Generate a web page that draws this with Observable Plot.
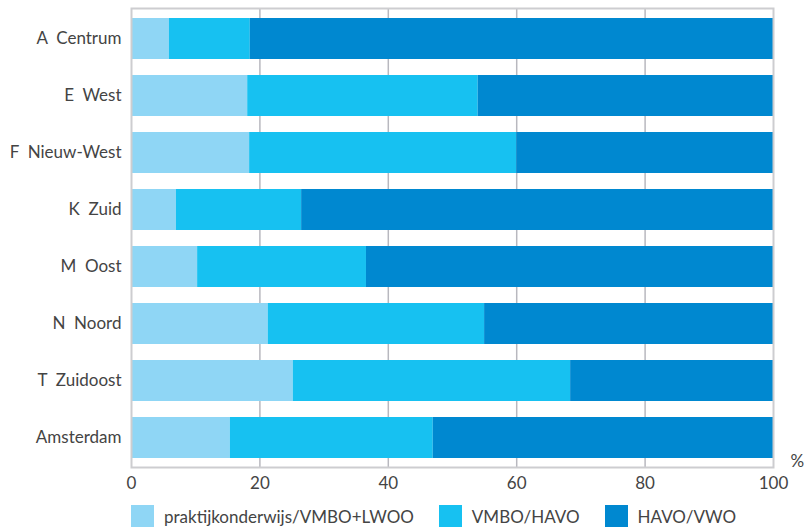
<!DOCTYPE html>
<html>
<head>
<meta charset="utf-8">
<script src="https://cdn.jsdelivr.net/npm/d3@7"></script>
<script src="https://cdn.jsdelivr.net/npm/@observablehq/plot@0.6"></script>
<style>
  html, body { margin: 0; padding: 0; background: #fff; }
  body { width: 805px; height: 531px; overflow: hidden; font-family: Lato, sans-serif; }
  #chart svg text { white-space: pre; }
  .legend { display: flex; align-items: center; margin-left: 131px; margin-top: 8px; font-family: Lato, sans-serif; font-size: 17px; color: #444; }
  .legend .item { display: flex; align-items: center; margin-right: 25px; }
  .legend .sw { width: 23px; height: 22px; margin-right: 10px; }
</style>
</head>
<body>
<div id="chart"></div>
<script>
const districts = ["A  Centrum", "E  West", "F  Nieuw-West", "K  Zuid", "M  Oost", "N  Noord", "T  Zuidoost", "Amsterdam"];
const categories = ["praktijkonderwijs/VMBO+LWOO", "VMBO/HAVO", "HAVO/VWO"];
const colors = ["#8fd6f5", "#17c1f1", "#0088d0"];
const praktijk = [5.9, 18.1, 18.4, 7.0, 10.3, 21.3, 25.2, 15.4];
const vmboHavo = [12.6, 35.9, 41.6, 19.5, 26.3, 33.7, 43.2, 31.6];
const havoVwo = [81.5, 46.0, 40.0, 73.5, 63.4, 45.0, 31.6, 53.0];
const xTicks = [0, 20, 40, 60, 80, 100];
const unitLabel = ["%"];

const series = [praktijk, vmboHavo, havoVwo];
const rows = [];
districts.forEach((d, i) => {
  categories.forEach((c, j) => rows.push({district: d, category: c, value: series[j][i]}));
});

const plot = Plot.plot({
  width: 805,
  height: 497,
  marginLeft: 131,
  marginRight: 32,
  marginTop: 8,
  marginBottom: 30,
  style: {fontFamily: "Lato, sans-serif", fontSize: "17px", color: "#444", background: "#fff"},
  x: {domain: [0, 100], ticks: xTicks, tickSize: 0, tickPadding: 8, label: null},
  y: {domain: districts, paddingInner: 0.272, paddingOuter: 0.141, align: 0.55, tickSize: 0, tickPadding: 10, label: null},
  color: {domain: categories, range: colors},
  marks: [
    Plot.gridX(xTicks.slice(1, -1), {stroke: "#b8b8bf", strokeOpacity: 1, strokeWidth: 1.5}),
    Plot.barX(rows, {x: "value", y: "district", fill: "category", order: categories}),
    Plot.frame({stroke: "#cdcdd0", strokeWidth: 2}),
    Plot.axisX({ticks: xTicks, tickSize: 0, tickPadding: 9, fontSize: 17}),
    Plot.axisY({tickSize: 0, tickPadding: 10, fontSize: 17}),
    Plot.text(unitLabel, {frameAnchor: "bottom-right", text: d => d, dx: 17, dy: -1, textAnchor: "start", fontSize: 17, fill: "#444", lineAnchor: "bottom"})
  ]
});
document.getElementById("chart").appendChild(plot);

const legend = document.createElement("div");
legend.className = "legend";
categories.forEach((c, j) => {
  const item = document.createElement("div");
  item.className = "item";
  const sw = document.createElement("div");
  sw.className = "sw";
  sw.style.background = plot.scale("color").apply(c);
  const label = document.createElement("span");
  label.textContent = c;
  item.appendChild(sw);
  item.appendChild(label);
  legend.appendChild(item);
});
document.getElementById("chart").appendChild(legend);
</script>
</body>
</html>
